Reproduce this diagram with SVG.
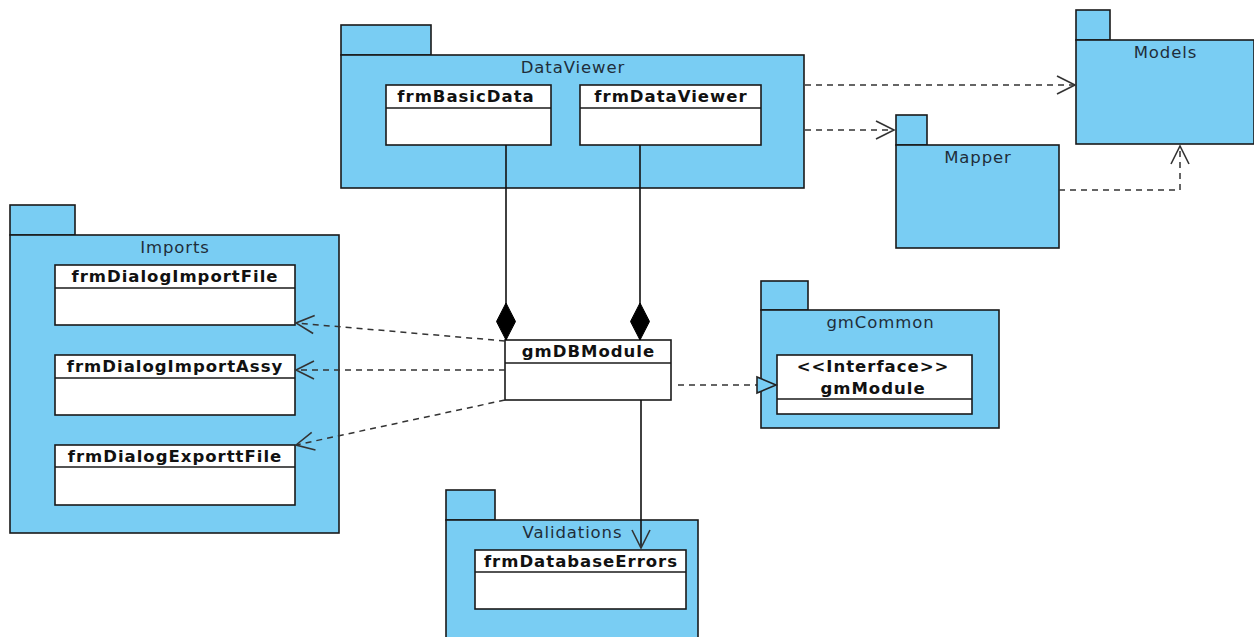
<svg xmlns="http://www.w3.org/2000/svg" width="1254" height="637" viewBox="0 0 1254 637">
<style>
.pkg{fill:#79cdf3;stroke:#1a1a1a;stroke-width:1.6}
.cls{fill:#ffffff;stroke:#1a1a1a;stroke-width:1.6}
.sep{stroke:#1a1a1a;stroke-width:1.6}
.ptitle{font-family:"DejaVu Sans",sans-serif;font-size:16.5px;fill:#1f2d3a;text-anchor:middle;letter-spacing:0.9px}
.ctitle{font-family:"DejaVu Sans",sans-serif;font-size:16.5px;font-weight:bold;fill:#111;text-anchor:middle;letter-spacing:1px}
.dash{fill:none;stroke:#333;stroke-width:1.5;stroke-dasharray:6,5}
.solid{fill:none;stroke:#111;stroke-width:1.6}
</style>
<defs>
<marker id="open" markerUnits="userSpaceOnUse" markerWidth="40" markerHeight="40" refX="0" refY="0" orient="auto" viewBox="-30 -20 40 40" overflow="visible">
<path d="M -18 -9 L 0 0 L -18 9" fill="none" stroke="#333" stroke-width="1.6"/>
</marker>
<marker id="diamond" markerUnits="userSpaceOnUse" markerWidth="60" markerHeight="40" refX="0" refY="0" orient="auto" viewBox="-50 -20 60 40" overflow="visible">
<path d="M 0 0 L -18.5 -9.5 L -37 0 L -18.5 9.5 Z" fill="#000" stroke="#000" stroke-width="1"/>
</marker>
<marker id="tri" markerUnits="userSpaceOnUse" markerWidth="40" markerHeight="40" refX="0" refY="0" orient="auto" viewBox="-30 -20 40 40" overflow="visible">
<path d="M 0 0 L -19 -8 L -19 8 Z" fill="#79cdf3" stroke="#222" stroke-width="1.6"/>
</marker>
</defs>

<g id="pkg-DataViewer">
<rect class="pkg" x="341" y="25" width="90" height="30"/>
<rect class="pkg" x="341" y="55" width="463" height="133"/>
<text class="ptitle" x="573" y="73">DataViewer</text>
</g>
<g id="cls-frmBasicData">
<rect class="cls" x="386" y="85" width="165" height="60"/>
<line class="sep" x1="386" y1="108" x2="551" y2="108"/>
<text class="ctitle" x="466" y="102">frmBasicData</text>
</g>
<g id="cls-frmDataViewer">
<rect class="cls" x="580" y="85" width="181" height="60"/>
<line class="sep" x1="580" y1="108" x2="761" y2="108"/>
<text class="ctitle" x="671" y="102">frmDataViewer</text>
</g>

<g id="pkg-Models">
<rect class="pkg" x="1076" y="10" width="34" height="30"/>
<rect class="pkg" x="1076" y="40" width="178" height="104"/>
<text class="ptitle" x="1165.5" y="58">Models</text>
</g>

<g id="pkg-Mapper">
<rect class="pkg" x="896" y="115" width="31" height="30"/>
<rect class="pkg" x="896" y="145" width="163" height="103"/>
<text class="ptitle" x="978" y="163">Mapper</text>
</g>

<g id="pkg-Imports">
<rect class="pkg" x="10" y="205" width="65" height="30"/>
<rect class="pkg" x="10" y="235" width="329" height="298"/>
<text class="ptitle" x="175" y="253">Imports</text>
</g>
<g id="cls-frmDialogImportFile">
<rect class="cls" x="55" y="265" width="240" height="60"/>
<line class="sep" x1="55" y1="288" x2="295" y2="288"/>
<text class="ctitle" x="175" y="282">frmDialogImportFile</text>
</g>
<g id="cls-frmDialogImportAssy">
<rect class="cls" x="55" y="355" width="240" height="60"/>
<line class="sep" x1="55" y1="378" x2="295" y2="378"/>
<text class="ctitle" x="175" y="372">frmDialogImportAssy</text>
</g>
<g id="cls-frmDialogExporttFile">
<rect class="cls" x="55" y="445" width="240" height="60"/>
<line class="sep" x1="55" y1="467" x2="295" y2="467"/>
<text class="ctitle" x="175" y="462">frmDialogExporttFile</text>
</g>

<g id="cls-gmDBModule">
<rect class="cls" x="505" y="340" width="166" height="60"/>
<line class="sep" x1="505" y1="363" x2="671" y2="363"/>
<text class="ctitle" x="588.5" y="357">gmDBModule</text>
</g>

<g id="pkg-gmCommon">
<rect class="pkg" x="761" y="281" width="47" height="29"/>
<rect class="pkg" x="761" y="310" width="238" height="118"/>
<text class="ptitle" x="880.5" y="328">gmCommon</text>
</g>
<g id="cls-gmModule">
<rect class="cls" x="777" y="355" width="195" height="59"/>
<line class="sep" x1="777" y1="399" x2="972" y2="399"/>
<text class="ctitle" x="873" y="372">&lt;&lt;Interface&gt;&gt;</text>
<text class="ctitle" x="873" y="394">gmModule</text>
</g>

<g id="pkg-Validations">
<rect class="pkg" x="446" y="490" width="49" height="30"/>
<rect class="pkg" x="446" y="520" width="252" height="122"/>
<text class="ptitle" x="572.5" y="538">Validations</text>
</g>
<g id="cls-frmDatabaseErrors">
<rect class="cls" x="475" y="550" width="211" height="59"/>
<line class="sep" x1="475" y1="572" x2="686" y2="572"/>
<text class="ctitle" x="581" y="567">frmDatabaseErrors</text>
</g>

<g id="connectors">
<path class="dash" d="M 805 85 L 1075 85" marker-end="url(#open)"/>
<path class="dash" d="M 805 130 L 894 130" marker-end="url(#open)"/>
<path class="dash" d="M 1059 190 L 1180 190 L 1180 146" marker-end="url(#open)"/>
<path class="solid" d="M 506 145 L 506 340" marker-end="url(#diamond)"/>
<path class="solid" d="M 640 145 L 640 340" marker-end="url(#diamond)"/>
<path class="dash" d="M 505 341 L 296 323" marker-end="url(#open)"/>
<path class="dash" d="M 505 370 L 296 370" marker-end="url(#open)"/>
<path class="dash" d="M 505 400 L 296 445" marker-end="url(#open)"/>
<path class="dash" d="M 678 385 L 776 385" marker-end="url(#tri)"/>
<path class="solid" d="M 641 400 L 641 548" marker-end="url(#open)"/>
</g>
</svg>
